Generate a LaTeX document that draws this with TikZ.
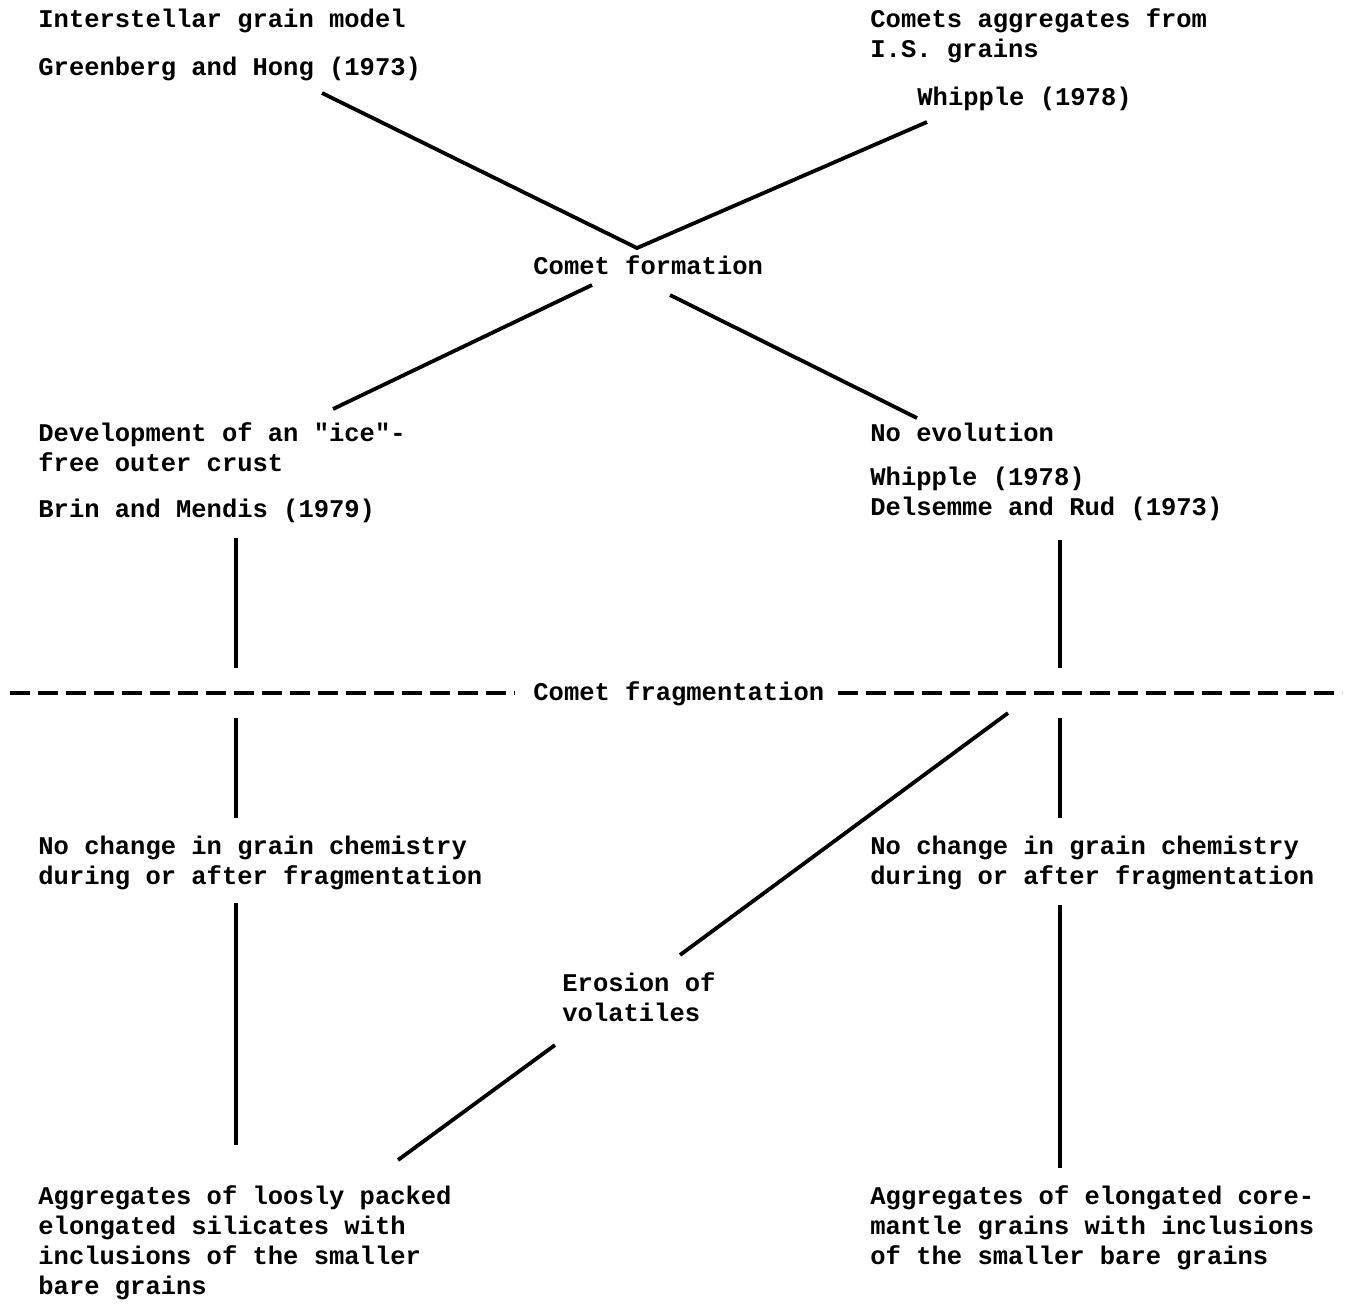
\documentclass[tikz,border=0pt]{standalone}
\usepackage{fontspec}
\setmonofont{Liberation Mono}
\begin{document}
\begin{tikzpicture}[x=0.5pt,y=-0.5pt,
  txt/.style={anchor=base west,inner sep=0pt,align=left,
    font=\ttfamily\bfseries\fontsize{12.75pt}{15pt}\selectfont},
  link/.style={line width=1.9pt,line cap=butt},
  vlink/.style={line width=1.6pt},
  dashline/.style={line width=1.6pt,dash pattern=on 10pt off 4pt}]
\useasboundingbox (0,0) rectangle (1348,1303);
\fill[white] (0,0) rectangle (1348,1303);
% texts (base anchor = baseline of the last line)
\node[txt] (ism) at (38,27) {Interstellar grain model};
\node[txt] (gh) at (38,75) {Greenberg and Hong (1973)};
\node[txt] (cag) at (870,57) {Comets aggregates from\\I.S. grains};
\node[txt] (wh1) at (917,105) {Whipple (1978)};
\node[txt] (cf) at (533,274) {Comet formation};
\node[txt] (dev) at (38,471) {Development of an "ice"-\\free outer crust};
\node[txt] (bm) at (38,517) {Brin and Mendis (1979)};
\node[txt] (noev) at (870,441) {No evolution};
\node[txt] (wh2) at (870,515) {Whipple (1978)\\Delsemme and Rud (1973)};
\node[txt] (frag) at (533,700) {Comet fragmentation};
\node[txt] (nc1) at (38,884) {No change in grain chemistry\\during or after fragmentation};
\node[txt] (nc2) at (870,884) {No change in grain chemistry\\during or after fragmentation};
\node[txt] (ero) at (562,1021) {Erosion of\\volatiles};
\node[txt] (ag1) at (38,1294) {Aggregates of loosly packed\\elongated silicates with\\inclusions of the smaller\\bare grains};
\node[txt] (ag2) at (870,1264) {Aggregates of elongated core-\\mantle grains with inclusions\\of the smaller bare grains};
% connector end points
\coordinate (a1) at (322,93);
\coordinate (a2) at (927,122);
\coordinate (cft) at (637,248);
\coordinate (b1) at (592,285);
\coordinate (b2) at (333,409);
\coordinate (c1) at (670,295);
\coordinate (c2) at (917,418);
\coordinate (l1t) at (236,538);
\coordinate (l1b) at (236,668);
\coordinate (r1t) at (1060,540);
\coordinate (r1b) at (1060,668);
\coordinate (l2t) at (236,718);
\coordinate (l2b) at (236,818);
\coordinate (r2t) at (1060,718);
\coordinate (r2b) at (1060,818);
\coordinate (d1) at (1008,713);
\coordinate (d2) at (680,955);
\coordinate (l3t) at (236,903);
\coordinate (l3b) at (236,1145);
\coordinate (r3t) at (1060,905);
\coordinate (r3b) at (1060,1168);
\coordinate (e1) at (555,1045);
\coordinate (e2) at (398,1160);
\coordinate (dl1) at (10,693);
\coordinate (dl2) at (515,693);
\coordinate (dr1) at (838,693);
\coordinate (dr2) at (1342,693);
% connectors
\draw[link] (a1) -- (cft) -- (a2);
\draw[link] (b1) -- (b2);
\draw[link] (c1) -- (c2);
\draw[vlink] (l1t) -- (l1b);
\draw[vlink] (r1t) -- (r1b);
\draw[vlink] (l2t) -- (l2b);
\draw[vlink] (r2t) -- (r2b);
\draw[link] (d1) -- (d2);
\draw[vlink] (l3t) -- (l3b);
\draw[vlink] (r3t) -- (r3b);
\draw[link] (e1) -- (e2);
\draw[dashline] (dl1) -- (dl2);
\draw[dashline] (dr1) -- (dr2);
\end{tikzpicture}
\end{document}
